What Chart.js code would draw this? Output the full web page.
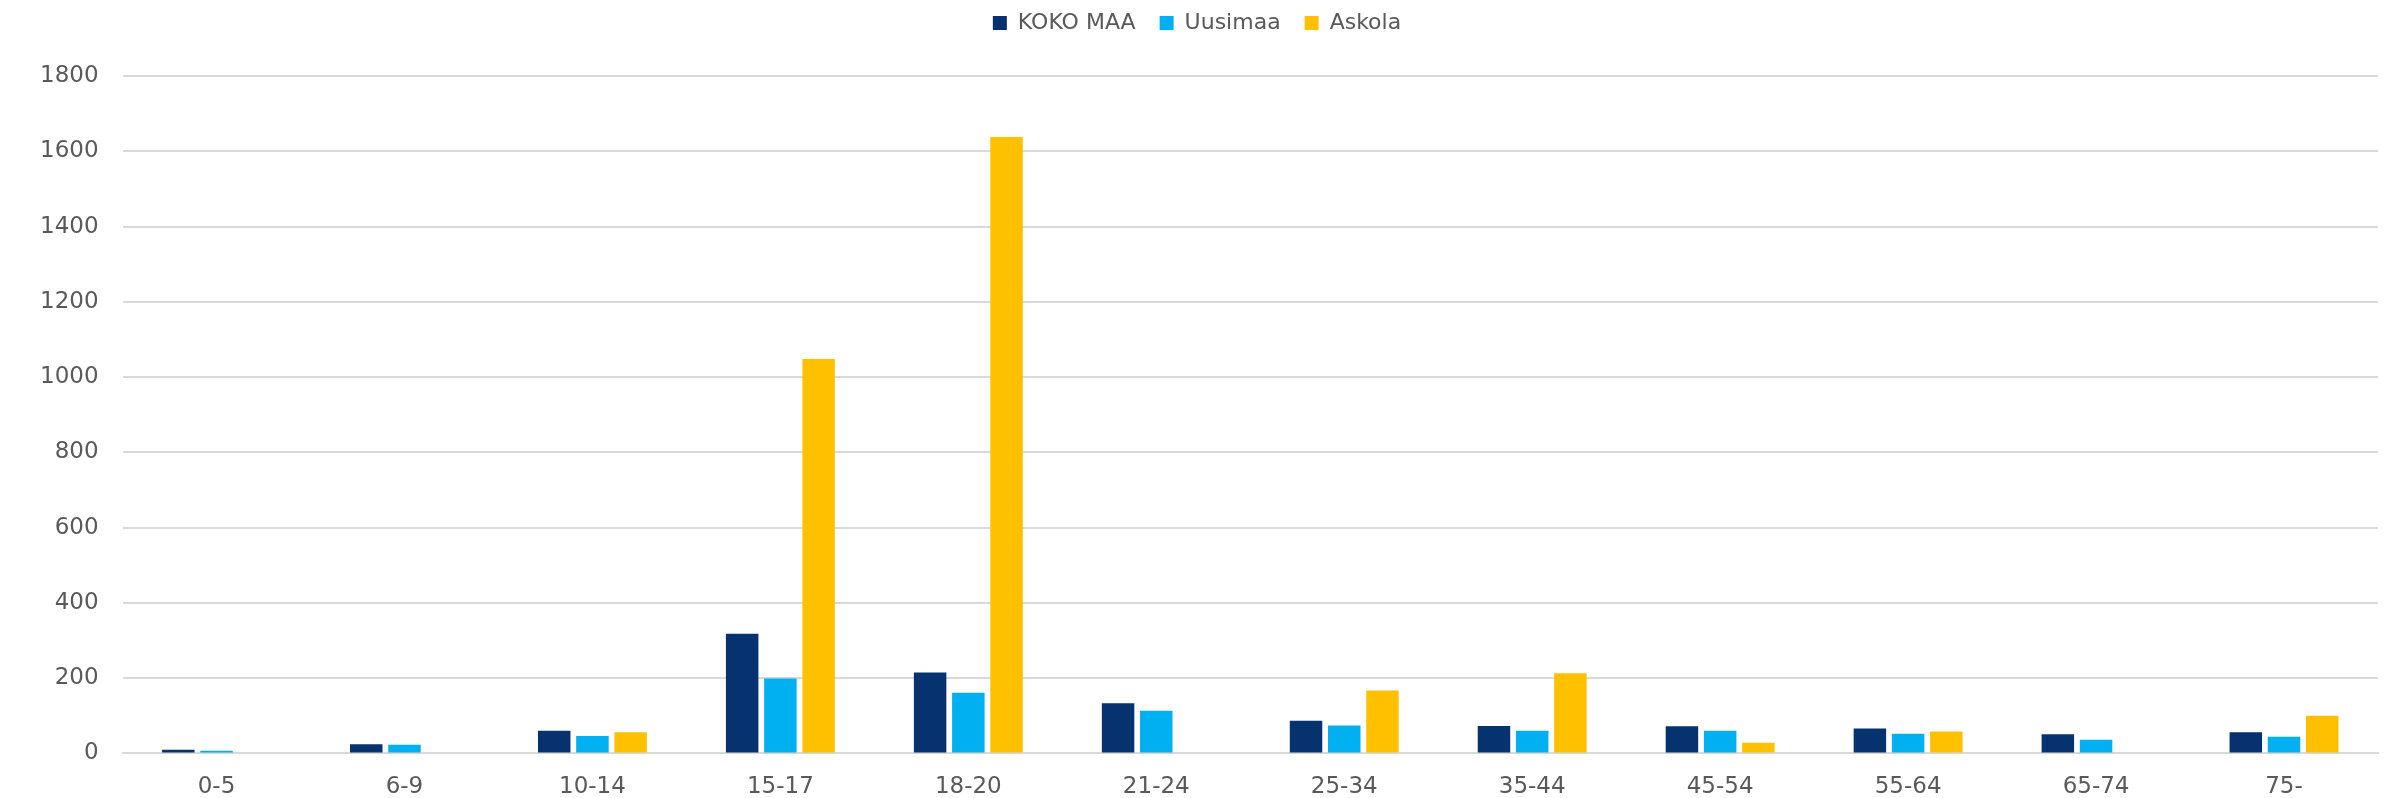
<!DOCTYPE html>
<html>
<head>
<meta charset="utf-8">
<script src="https://cdn.jsdelivr.net/npm/chart.js@4.4.1/dist/chart.umd.min.js"></script>
<style>
  html, body { margin: 0; padding: 0; background: #fff; }
  #wrap { width: 2387px; height: 798px; position: relative; }
</style>
</head>
<body>
<div id="wrap"><canvas id="chart"></canvas></div>
<script>
// ── data ───────────────────────────────────────────────────────────
const ageGroups = ["0-5", "6-9", "10-14", "15-17", "18-20", "21-24", "25-34", "35-44", "45-54", "55-64", "65-74", "75-"];
const kokoMaa = [10, 24, 60, 318, 215, 133, 87, 73, 72, 66, 51, 56];
const uusimaa = [7, 23, 46, 199, 161, 113, 74, 60, 60, 52, 36, 44];
const askola  = [0, 0, 56, 1048, 1638, 0, 167, 213, 28, 58, 0, 100];
const yTicks = [0, 200, 400, 600, 800, 1000, 1200, 1400, 1600, 1800];

const TXT = "#595959";
const GRID = "#d9d9d9";
const FONT = "'DejaVu Sans', Verdana, sans-serif";

const ds = (label, data, color) => ({
  label, data, backgroundColor: color, borderWidth: 0,
  categoryPercentage: 0.61, barPercentage: 0.85,
});

// extra room between legend and plot
const legendGap = {
  id: "legendGap",
  beforeInit(chart) {
    const fit = chart.legend.fit;
    chart.legend.fit = function () { fit.bind(chart.legend)(); this.height += 32; };
  },
};

new Chart(document.getElementById("chart"), {
  type: "bar",
  data: {
    labels: ageGroups,
    datasets: [
      ds("KOKO MAA", kokoMaa, "#063270"),
      ds("Uusimaa", uusimaa, "#00b0f0"),
      ds("Askola", askola, "#ffc000"),
    ],
  },
  plugins: [legendGap],
  options: {
    responsive: true, maintainAspectRatio: false, animation: false,
    devicePixelRatio: 1,
    layout: { padding: { left: 16, right: 9, top: -12, bottom: -23 } },
    plugins: {
      tooltip: { enabled: false },
      legend: {
        position: "top",
        labels: {
          color: TXT, boxWidth: 14, boxHeight: 14, padding: 24,
          font: { family: FONT, size: 22 },
        },
      },
    },
    scales: {
      x: {
        grid: { display: false, drawTicks: false },
        border: { color: GRID, width: 2 },
        ticks: {
          color: TXT, padding: 20,
          font: { family: FONT, size: 23 },
        },
      },
      y: {
        min: 0, max: 1800,
        afterBuildTicks: (axis) => { axis.ticks = yTicks.map((v) => ({ value: v })); },
        grid: { color: GRID, lineWidth: 2, drawTicks: false },
        border: { display: false },
        ticks: {
          color: TXT, padding: 24,
          font: { family: FONT, size: 23 },
          callback: (v) => String(v),
        },
      },
    },
  },
});
</script>
</body>
</html>
